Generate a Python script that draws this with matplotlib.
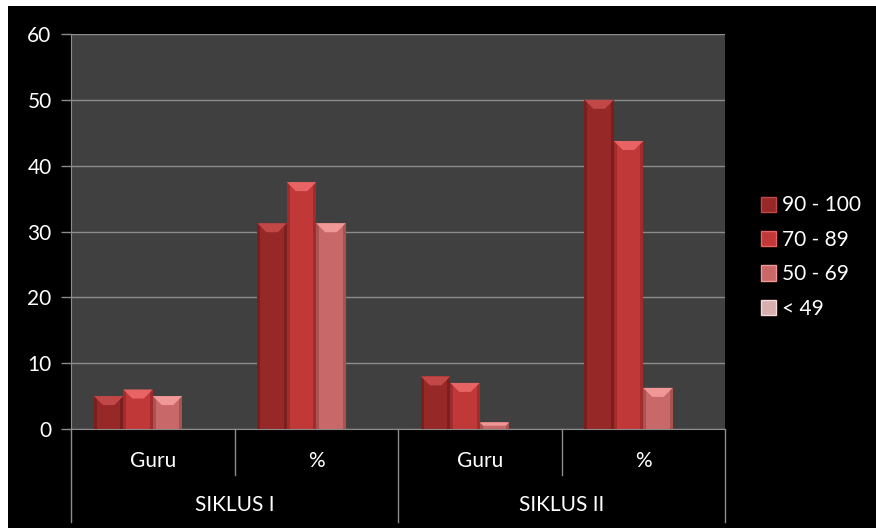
import matplotlib
matplotlib.use("Agg")
import matplotlib.pyplot as plt
from matplotlib.patches import Polygon, Rectangle, Patch
from matplotlib.lines import Line2D
import matplotlib.transforms as mtransforms

plt.rcParams['font.family'] = ['Lato', 'DejaVu Sans']

sub_labels = ["Guru", "%", "Guru", "%"]
group_labels = ["SIKLUS I", "SIKLUS II"]
series_names = ["90 - 100", "70 - 89", "50 - 69", "< 49"]
s_90_100 = [5, 31.25, 8, 50]
s_70_89 = [6, 37.5, 7, 43.75]
s_50_69 = [5, 31.25, 1, 6.25]
s_lt_49 = [0, 0, 0, 0]
series = [s_90_100, s_70_89, s_50_69, s_lt_49]
yticks = [0, 10, 20, 30, 40, 50, 60]

main_cols = ["#962828", "#C03838", "#C86868", "#D8AEAE"]
top_cols = ["#C24848", "#E86464", "#F09898", "#F4DADA"]
side_cols = ["#7A1E1E", "#A02C2C", "#A85252", "#B89090"]

FS = 15
W, H = 876, 528
fig = plt.figure(figsize=(W / 100, H / 100), dpi=100, facecolor="black")
ax = fig.add_axes([71 / W, 1 - 429 / H, (725 - 71) / W, (429 - 34) / H])
ax.set_facecolor("#404040")

ax.set_xlim(-0.5, 3.5)
ax.set_ylim(0, 60)
ax.set_yticks(yticks)
ax.set_yticklabels([str(t) for t in yticks], color="white", fontsize=FS)
ax.tick_params(axis="y", colors="#8c8c8c", length=7, width=1, labelcolor="white", pad=7)
ax.set_xticks([])
ax.grid(axis="y", color="#8c8c8c", linewidth=1)
ax.set_axisbelow(True)
for s in ["top", "right"]:
    ax.spines[s].set_visible(False)
ax.spines["left"].set_color("#8c8c8c")
ax.spines["bottom"].set_color("#8c8c8c")

bw = 0.18
fig.canvas.draw()
for i, vals in enumerate(series):
    xs = [c + (i - 1.5) * bw for c in range(len(vals))]
    bars = ax.bar(xs, vals, width=bw, color=main_cols[i], edgecolor="none", zorder=2)
    for b, v in zip(bars, vals):
        if v <= 0:
            continue
        (x0, y0), (x1, y1) = ax.transData.transform([(b.get_x(), 0), (b.get_x() + b.get_width(), v)])
        d = min(9, (y1 - y0) / 2, (x1 - x0) / 3)
        s = 3
        ax.add_patch(Polygon([(x0, y0), (x0 + s, y0), (x0 + s, y1), (x0, y1)], closed=True,
                             transform=None, facecolor=side_cols[i], edgecolor="none", zorder=3))
        ax.add_patch(Polygon([(x1 - s, y0), (x1, y0), (x1, y1), (x1 - s, y1)], closed=True,
                             transform=None, facecolor=side_cols[i], edgecolor="none", zorder=3))
        ax.add_patch(Polygon([(x0, y1), (x1, y1), (x1 - d, y1 - d), (x0 + d, y1 - d)], closed=True,
                             transform=None, facecolor=top_cols[i], edgecolor="none", zorder=4))

trans = mtransforms.blended_transform_factory(ax.transData, ax.transAxes)
y_sub = (429 - 475) / (429 - 34)
y_grp = (429 - 522) / (429 - 34)
for xb in [0.5, 2.5]:
    ax.add_line(Line2D([xb, xb], [0, y_sub], transform=trans, color="#8c8c8c", lw=1, clip_on=False))
for xb in [-0.5, 1.5, 3.5]:
    ax.add_line(Line2D([xb, xb], [0, y_grp], transform=trans, color="#8c8c8c", lw=1, clip_on=False))
for c, lab in enumerate(sub_labels):
    ax.text(c, (429 - 461) / 395, lab, transform=trans, ha="center", va="center",
            color="white", fontsize=FS)
for g, lab in enumerate(group_labels):
    ax.text(2 * g + 0.5, (429 - 505) / 395, lab, transform=trans, ha="center", va="center",
            color="white", fontsize=FS)

handles = [Patch(facecolor=main_cols[i], edgecolor=top_cols[i]) for i in range(4)]
fig.legend(handles, series_names, loc="center left", bbox_to_anchor=(746 / W, 1 - 257 / H),
           frameon=False, labelcolor="white", fontsize=FS, handlelength=0.75, handleheight=0.75,
           handletextpad=0.3, labelspacing=0.69, borderpad=0.2)

fig.patches.append(Rectangle((0, 0), 8 / W, 1, transform=fig.transFigure, facecolor="white",
                             edgecolor="none", zorder=10))
fig.patches.append(Rectangle((0, 1 - 6 / H), 1, 6 / H, transform=fig.transFigure, facecolor="white",
                             edgecolor="none", zorder=10))

fig.savefig("out.png", dpi=100, facecolor="black")
